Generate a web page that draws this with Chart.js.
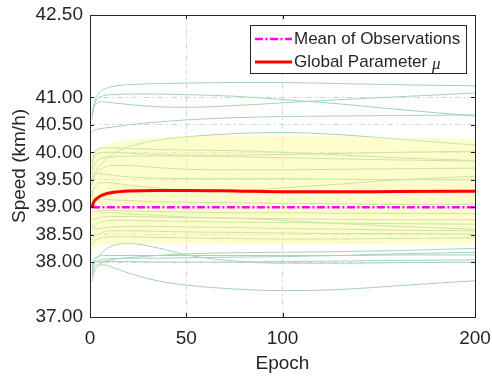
<!DOCTYPE html>
<html>
<head>
<meta charset="utf-8">
<script src="https://cdn.jsdelivr.net/npm/chart.js@4.4.0/dist/chart.umd.min.js"></script>
<style>
  html, body { margin: 0; padding: 0; background: #fff; }
</style>
</head>
<body>
<canvas id="speed-chart" width="492" height="381"></canvas>
<script>
// epochs where every curve is sampled
const epochs = [1, 2, 4, 7, 12, 20, 35, 50, 75, 100, 130, 160, 200];

const xTicks = [0, 50, 100, 200];
const yTicks = [37, 38, 38.5, 39, 39.5, 40, 40.5, 41, 42.5];

// mean of observations and global parameter mu
const meanObs = [39.0, 39.0, 39.0, 39.0, 39.0, 39.0, 39.0, 39.0, 39.0, 39.0, 39.0, 39.0, 39.0];
const globalMu = [39.0, 39.1, 39.17, 39.23, 39.27, 39.295, 39.305, 39.305, 39.295, 39.28, 39.28, 39.285, 39.29];

// shaded band
const bandTop = [39.8, 39.95, 40.05, 40.12, 40.18, 40.22, 40.27, 40.29, 40.3, 40.3, 40.29, 40.27, 40.25];
const bandBottom = [38.1, 38.2, 38.27, 38.31, 38.33, 38.34, 38.34, 38.34, 38.33, 38.33, 38.33, 38.32, 38.32];

// individual observation curves (upper group)
const u1 = [40.6, 40.85, 41.05, 41.14, 41.2, 41.23, 41.25, 41.26, 41.27, 41.27, 41.25, 41.23, 41.21];
const u2 = [40.7, 40.85, 40.98, 41.03, 41.05, 41.06, 41.06, 41.05, 41.02, 40.96, 40.88, 40.78, 40.66];
const u3 = [40.65, 40.82, 40.9, 40.92, 40.9, 40.87, 40.83, 40.82, 40.85, 40.9, 40.96, 41.01, 41.08];
const u4 = [40.35, 40.4, 40.42, 40.44, 40.46, 40.5, 40.55, 40.59, 40.63, 40.65, 40.66, 40.67, 40.68];
const u5 = [39.5, 39.6, 39.72, 39.83, 39.97, 40.1, 40.22, 40.28, 40.34, 40.36, 40.32, 40.24, 40.13];

// curves inside the band
const m1 = [39.7, 39.95, 40.05, 40.08, 40.08, 40.07, 40.05, 40.04, 40.03, 40.0, 39.95, 39.9, 39.85];
const m2 = [39.8, 39.9, 39.98, 40.0, 40.0, 39.98, 39.96, 39.95, 39.95, 39.96, 39.98, 40.0, 40.02];
const m3 = [39.6, 39.75, 39.85, 39.9, 39.92, 39.93, 39.93, 39.93, 39.92, 39.9, 39.88, 39.86, 39.84];
const m4 = [39.4, 39.55, 39.65, 39.72, 39.76, 39.76, 39.72, 39.69, 39.68, 39.68, 39.69, 39.7, 39.71];
const m5 = [39.5, 39.6, 39.62, 39.6, 39.58, 39.55, 39.53, 39.52, 39.52, 39.52, 39.51, 39.5, 39.5];
const m6 = [39.2, 39.35, 39.42, 39.45, 39.44, 39.4, 39.35, 39.3, 39.3, 39.35, 39.42, 39.5, 39.56];
const m7 = [39.1, 39.12, 39.15, 39.15, 39.13, 39.12, 39.1, 39.09, 39.08, 39.07, 39.06, 39.05, 39.05];
const m8 = [38.9, 38.92, 38.93, 38.94, 38.94, 38.93, 38.92, 38.91, 38.9, 38.9, 38.89, 38.89, 38.88];
const m9 = [38.8, 38.78, 38.8, 38.82, 38.83, 38.83, 38.82, 38.81, 38.8, 38.79, 38.78, 38.77, 38.77];
const m10 = [38.6, 38.65, 38.7, 38.74, 38.76, 38.76, 38.75, 38.74, 38.73, 38.72, 38.71, 38.7, 38.69];
const m11 = [38.7, 38.62, 38.6, 38.62, 38.64, 38.65, 38.65, 38.64, 38.63, 38.61, 38.6, 38.58, 38.57];
const m12 = [38.4, 38.45, 38.5, 38.55, 38.57, 38.57, 38.56, 38.55, 38.54, 38.53, 38.52, 38.52, 38.51];
const m13 = [38.3, 38.38, 38.42, 38.45, 38.46, 38.46, 38.45, 38.44, 38.43, 38.42, 38.42, 38.43, 38.44];
const m14 = [39.3, 39.1, 38.95, 38.9, 38.9, 38.88, 38.85, 38.82, 38.8, 38.76, 38.7, 38.65, 38.6];

// curves below the band
const b1 = [37.65, 37.8, 37.92, 37.95, 37.9, 37.8, 37.66, 37.58, 37.51, 37.48, 37.5, 37.57, 37.66];
const b2 = [37.85, 37.98, 38.08, 38.2, 38.3, 38.34, 38.26, 38.13, 38.02, 37.98, 37.98, 37.99, 38.0];
const b3 = [37.75, 37.88, 37.95, 38.0, 38.05, 38.08, 38.12, 38.15, 38.17, 38.18, 38.19, 38.21, 38.25];
const b4 = [37.8, 37.95, 38.02, 38.05, 38.06, 38.07, 38.07, 38.08, 38.09, 38.1, 38.12, 38.15, 38.18];
const b5 = [37.9, 37.98, 38.0, 38.01, 38.01, 38.01, 38.0, 38.0, 38.0, 38.01, 38.02, 38.03, 38.04];
const b6 = [37.95, 38.05, 38.1, 38.12, 38.12, 38.12, 38.12, 38.12, 38.12, 38.12, 38.12, 38.13, 38.13];

const obsCurves = [u1, u2, u3, u4, u5, m1, m2, m3, m4, m5, m6, m7, m8, m9, m10, m11, m12, m13, m14, b1, b2, b3, b4, b5, b6];

const textColor = '#262626';
const fontFamily = '"Liberation Sans", Arial, Helvetica, sans-serif';

function toPoints(values) {
  return values.map((v, i) => ({ x: epochs[i], y: v }));
}

const datasets = [];

datasets.push({
  label: 'Global Parameter',
  data: toPoints(globalMu),
  borderColor: '#ff0000',
  borderWidth: 3,
  pointRadius: 0,
  cubicInterpolationMode: 'monotone',
  order: 1
});
datasets.push({
  label: 'Mean of Observations',
  data: toPoints(meanObs),
  borderColor: '#ff00ff',
  borderWidth: 2.5,
  borderDash: [8, 2.5, 2, 2.5],
  pointRadius: 0,
  order: 2
});
datasets.push({
  label: 'band top',
  data: toPoints(bandTop),
  borderWidth: 0,
  borderColor: 'rgba(0,0,0,0)',
  backgroundColor: 'rgba(250, 250, 145, 0.45)',
  pointRadius: 0,
  cubicInterpolationMode: 'monotone',
  fill: '+1',
  order: 5
});
datasets.push({
  label: 'band bottom',
  data: toPoints(bandBottom),
  borderWidth: 0,
  borderColor: 'rgba(0,0,0,0)',
  pointRadius: 0,
  cubicInterpolationMode: 'monotone',
  fill: false,
  order: 5
});
obsCurves.forEach((curve, i) => {
  datasets.push({
    label: 'obs' + (i + 1),
    data: toPoints(curve),
    borderColor: 'rgb(165, 211, 182)',
    borderWidth: 1,
    pointRadius: 0,
    cubicInterpolationMode: 'monotone',
    fill: false,
    order: 10
  });
});

// frame, inner tick marks and the legend box
const framePlugin = {
  id: 'frame',
  afterDraw(chart) {
    const { ctx, chartArea: a, scales } = chart;
    ctx.save();
    ctx.strokeStyle = textColor;
    ctx.lineWidth = 1;
    ctx.strokeRect(Math.round(a.left) + 0.5, Math.round(a.top) + 0.5,
      Math.round(a.right - a.left), Math.round(a.bottom - a.top));

    ctx.beginPath();
    scales.y.ticks.forEach(t => {
      const y = Math.round(scales.y.getPixelForValue(t.value)) + 0.5;
      ctx.moveTo(a.left, y); ctx.lineTo(a.left + 4, y);
      ctx.moveTo(a.right, y); ctx.lineTo(a.right - 4, y);
    });
    scales.x.ticks.forEach(t => {
      const x = Math.round(scales.x.getPixelForValue(t.value)) + 0.5;
      ctx.moveTo(x, a.bottom); ctx.lineTo(x, a.bottom - 4);
      ctx.moveTo(x, a.top); ctx.lineTo(x, a.top + 4);
    });
    ctx.stroke();

    // legend
    const fontPx = 17;
    ctx.font = fontPx + 'px ' + fontFamily;
    const rows = [
      { text: 'Mean of Observations', color: '#ff00ff', width: 2.5, dash: [8, 2.5, 2, 2.5] },
      { text: 'Global Parameter ', color: '#ff0000', width: 3, dash: [], mu: true }
    ];
    const textW = Math.max(...rows.map(r => ctx.measureText(r.text).width));
    const sample = 37;
    const boxW = 5 + sample + 2 + textW + 6;
    const boxH = 48;
    const right = a.right - 9;
    const left = Math.round(right - boxW);
    const top = Math.round(a.top + 10);
    ctx.fillStyle = '#fff';
    ctx.fillRect(left, top, boxW, boxH);
    ctx.strokeStyle = textColor;
    ctx.lineWidth = 1;
    ctx.setLineDash([]);
    ctx.strokeRect(left + 0.5, top + 0.5, Math.round(boxW), boxH);

    rows.forEach((r, i) => {
      const y = top + 14 + i * 23;
      ctx.beginPath();
      ctx.strokeStyle = r.color;
      ctx.lineWidth = r.width;
      ctx.setLineDash(r.dash);
      ctx.moveTo(left + 5, y);
      ctx.lineTo(left + 5 + sample, y);
      ctx.stroke();
      ctx.setLineDash([]);
      ctx.fillStyle = textColor;
      ctx.textBaseline = 'middle';
      ctx.textAlign = 'left';
      ctx.font = fontPx + 'px ' + fontFamily;
      const tx = left + 5 + sample + 2;
      ctx.fillText(r.text, tx, y);
      if (r.mu) {
        const w = ctx.measureText(r.text).width;
        ctx.font = 'italic 17px "Liberation Serif", "Times New Roman", serif';
        ctx.fillText('\u03bc', tx + w, y + 3);
      }
    });
    ctx.restore();
  }
};

const gridDash = [6, 3, 1.5, 3];

new Chart(document.getElementById('speed-chart').getContext('2d'), {
  type: 'line',
  data: { datasets },
  options: {
    responsive: false,
    animation: false,
    layout: { padding: { top: 15, right: 17, left: 0, bottom: 0 } },
    plugins: {
      legend: { display: false },
      tooltip: { enabled: false }
    },
    scales: {
      x: {
        type: 'linear',
        min: 0,
        max: 200,
        afterBuildTicks: scale => { scale.ticks = xTicks.map(v => ({ value: v })); },
        afterFit: scale => {
          scale.height = 64;
          scale.paddingLeft = 0;
          scale.paddingRight = 0;
        },
        ticks: {
          color: textColor,
          font: { family: fontFamily, size: 19 },
          padding: 10,
          maxRotation: 0,
          callback: v => String(v)
        },
        grid: {
          drawTicks: false,
          color: ctx => (ctx.tick && (ctx.tick.value === 50 || ctx.tick.value === 100)) ? '#d6d6d6' : 'rgba(0,0,0,0)',
          lineWidth: 1
        },
        border: { display: false, dash: gridDash },
        title: {
          display: true,
          text: 'Epoch',
          color: textColor,
          font: { family: fontFamily, size: 19 },
          padding: { top: 0, bottom: 6 }
        }
      },
      y: {
        type: 'linear',
        min: 37,
        max: 42.5,
        afterBuildTicks: scale => { scale.ticks = yTicks.map(v => ({ value: v })); },
        afterFit: scale => {
          scale.width = 90;
          scale.paddingTop = 0;
          scale.paddingBottom = 0;
        },
        ticks: {
          color: textColor,
          font: { family: fontFamily, size: 19 },
          padding: 7,
          callback: v => Number(v).toFixed(2)
        },
        grid: {
          drawTicks: false,
          color: ctx => (ctx.tick && ctx.tick.value > 37 && ctx.tick.value < 42.5) ? '#d6d6d6' : 'rgba(0,0,0,0)',
          lineWidth: 1
        },
        border: { display: false, dash: gridDash },
        title: {
          display: true,
          text: 'Speed (km/h)',
          color: textColor,
          font: { family: fontFamily, size: 19 },
          padding: { top: 8, bottom: 0 }
        }
      }
    }
  },
  plugins: [framePlugin]
});
</script>
</body>
</html>
